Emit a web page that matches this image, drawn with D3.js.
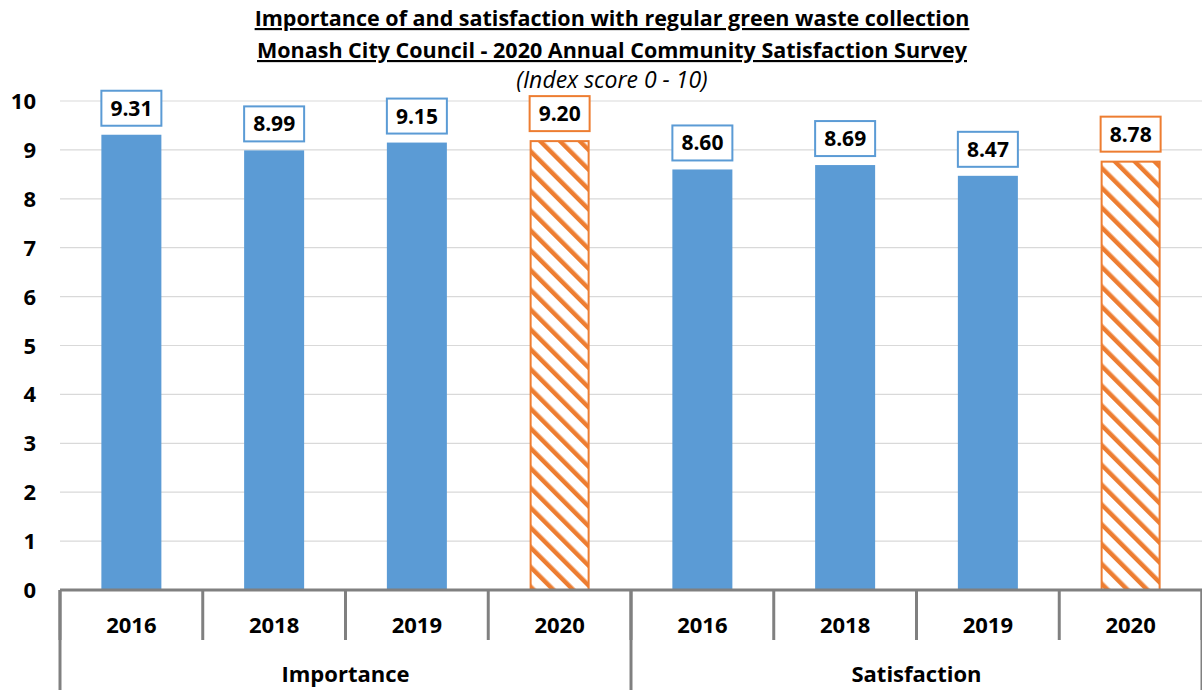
<!DOCTYPE html>
<html>
<head>
<meta charset="utf-8">
<script src="https://cdn.jsdelivr.net/npm/d3@7"></script>
<style>
  body { margin: 0; background: #fff; }
  svg text { font-family: "Open Sans", "Liberation Sans", sans-serif; }
</style>
</head>
<body>
<div id="chart"></div>
<script>
// Chart data
const groups = ["Importance", "Satisfaction"];
const years = ["2016", "2018", "2019", "2020"];
const importance = [9.31, 8.99, 9.15, 9.20];
const satisfaction = [8.60, 8.69, 8.47, 8.78];
const yTicks = [0, 1, 2, 3, 4, 5, 6, 7, 8, 9, 10];

const width = 1202;
const height = 690;
const margin = { top: 101, right: 0, bottom: 100, left: 60 };

const blue = "#5b9bd5";
const orange = "#ed7d31";
const axisGrey = "#808080";

const rows = [];
groups.forEach((g, gi) => {
    const vals = gi === 0 ? importance : satisfaction;
    years.forEach((y, i) => {
        rows.push({ key: g + "-" + y, group: g, year: y, value: vals[i], current: y === "2020" });
    });
});

const svg = d3.select("#chart").append("svg")
    .attr("width", width)
    .attr("height", height);

// Hatch pattern for current year (stripes running down to the right)
const defs = svg.append("defs");
const pat = defs.append("pattern")
    .attr("id", "hatch")
    .attr("patternUnits", "userSpaceOnUse")
    .attr("width", 14)
    .attr("height", 14)
    .attr("patternTransform", "rotate(-45)");
pat.append("rect").attr("width", 14).attr("height", 14).attr("fill", "#fff");
pat.append("rect").attr("x", 0).attr("width", 4.5).attr("height", 14).attr("fill", orange);

const x = d3.scaleBand()
    .domain(rows.map(d => d.key))
    .range([margin.left, width - margin.right])
    .paddingInner(0)
    .paddingOuter(0);

const y = d3.scaleLinear()
    .domain([0, 10])
    .range([height - margin.bottom, margin.top]);

const barW = 60;

// Gridlines
svg.append("g")
    .selectAll("line")
    .data(yTicks.filter(t => t > 0))
    .join("line")
    .attr("x1", margin.left)
    .attr("x2", width - margin.right)
    .attr("y1", d => y(d))
    .attr("y2", d => y(d))
    .attr("stroke", "#d9d9d9")
    .attr("stroke-width", 1.2);

// Y tick labels
svg.append("g")
    .selectAll("text")
    .data(yTicks)
    .join("text")
    .attr("x", 36)
    .attr("y", d => y(d) + 8)
    .attr("text-anchor", "end")
    .style("font-size", "22px")
    .style("font-weight", "bold")
    .text(d => d);

// Bars
svg.append("g")
    .selectAll("rect")
    .data(rows)
    .join("rect")
    .attr("x", d => x(d.key) + x.bandwidth() / 2 - barW / 2 + (d.current ? 1 : 0))
    .attr("y", d => y(d.value) + (d.current ? 1 : 0))
    .attr("width", d => barW - (d.current ? 2 : 0))
    .attr("height", d => y(0) - y(d.value) - (d.current ? 1 : 0))
    .attr("fill", d => d.current ? "url(#hatch)" : blue)
    .attr("stroke", d => d.current ? orange : "none")
    .attr("stroke-width", 2);

// Value labels
const lab = svg.append("g")
    .selectAll("g")
    .data(rows)
    .join("g")
    .attr("transform", d => `translate(${x(d.key) + x.bandwidth() / 2}, ${y(d.value) - 8})`);

lab.append("rect")
    .attr("x", -30)
    .attr("y", -36)
    .attr("width", 60)
    .attr("height", 35)
    .attr("fill", "#fff")
    .attr("stroke", d => d.current ? orange : blue)
    .attr("stroke-width", 2);

lab.append("text")
    .attr("x", 0)
    .attr("y", -11)
    .attr("text-anchor", "middle")
    .style("font-size", "21px")
    .style("font-weight", "bold")
    .text(d => d.value.toFixed(2));

// X axis line
const base = y(0);
svg.append("line")
    .attr("x1", margin.left)
    .attr("x2", width)
    .attr("y1", base)
    .attr("y2", base)
    .attr("stroke", axisGrey)
    .attr("stroke-width", 3);

// Year separators
const yearBounds = rows.map(d => x(d.key)).concat([width - margin.right]);
svg.append("g")
    .selectAll("line")
    .data(yearBounds)
    .join("line")
    .attr("x1", d => d)
    .attr("x2", d => d)
    .attr("y1", base)
    .attr("y2", base + 50)
    .attr("stroke", axisGrey)
    .attr("stroke-width", 3);

// Group separators
const groupBounds = [x(rows[0].key), x(rows[4].key), width - margin.right];
svg.append("g")
    .selectAll("line")
    .data(groupBounds)
    .join("line")
    .attr("x1", d => d)
    .attr("x2", d => d)
    .attr("y1", base)
    .attr("y2", height)
    .attr("stroke", axisGrey)
    .attr("stroke-width", 3);

// Year labels
svg.append("g")
    .selectAll("text")
    .data(rows)
    .join("text")
    .attr("x", d => x(d.key) + x.bandwidth() / 2)
    .attr("y", base + 43)
    .attr("text-anchor", "middle")
    .style("font-size", "22px")
    .style("font-weight", "bold")
    .text(d => d.year);

// Group labels
svg.append("g")
    .selectAll("text")
    .data(groups)
    .join("text")
    .attr("x", (d, i) => (groupBounds[i] + groupBounds[i + 1]) / 2)
    .attr("y", base + 92)
    .attr("text-anchor", "middle")
    .style("font-size", "22px")
    .style("font-weight", "bold")
    .text(d => d);

// Titles
svg.append("text")
    .attr("x", 612)
    .attr("y", 26)
    .attr("text-anchor", "middle")
    .style("font-size", "21.5px")
    .style("font-weight", "bold")
    .style("text-decoration", "underline")
    .text("Importance of and satisfaction with regular green waste collection");

svg.append("text")
    .attr("x", 612)
    .attr("y", 58)
    .attr("text-anchor", "middle")
    .style("font-size", "21.5px")
    .style("font-weight", "bold")
    .style("text-decoration", "underline")
    .text("Monash City Council - 2020 Annual Community Satisfaction Survey");

svg.append("text")
    .attr("x", 612)
    .attr("y", 88)
    .attr("text-anchor", "middle")
    .style("font-size", "23px")
    .style("font-style", "italic")
    .text("(Index score 0 - 10)");
</script>
</body>
</html>
